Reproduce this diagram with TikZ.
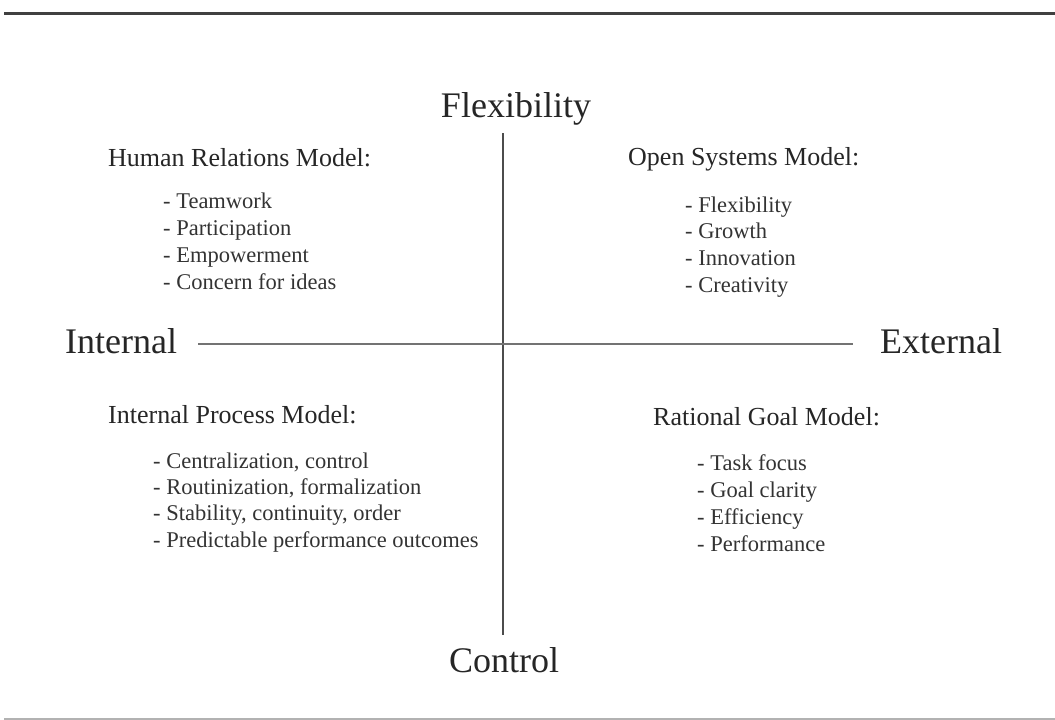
\documentclass[tikz,border=0pt]{standalone}
\usepackage{fontspec}
\setmainfont{Liberation Serif}

\begin{document}
\begin{tikzpicture}[x=1pt, y=-1pt,
    axislabel/.style={font=\fontsize{36}{40}\selectfont, text=black!85, inner sep=0pt, anchor=base},
    modelname/.style={font=\fontsize{26}{30}\selectfont, text=black!85, inner sep=0pt, anchor=base west},
    modelitem/.style={font=\fontsize{22.5}{26}\selectfont, text=black!80, inner sep=0pt, anchor=base west}]

    \useasboundingbox (0,0) rectangle (1055,720);

    % rules above and below
	\coordinate (ruletl) at (4,13);
	\coordinate (ruletr) at (1055,13);
	\coordinate (rulebl) at (4,719);
	\coordinate (rulebr) at (1055,719);
    \draw [line width=3pt, black!75] (ruletl) -- (ruletr);
    \draw [line width=1.5pt, black!30] (rulebl) -- (rulebr);

    % the two axes
	\coordinate (top)    at (503,133);
	\coordinate (bottom) at (503,635);
	\coordinate (left)   at (198,344);
	\coordinate (right)  at (853,344);
    \draw [line width=1.4pt, black!70] (top) -- (bottom);
    \draw [line width=1.4pt, black!55] (left) -- (right);

	\node [axislabel] (flex) at (516,117) {Flexibility};
	\node [axislabel] (ctrl) at (504,672) {Control};
	\node [axislabel, anchor=base west] (int) at (65,353) {Internal};
	\node [axislabel, anchor=base west] (ext) at (880,353) {External};

    % quadrants
	\node [modelname] (hrm) at (108,166) {Human Relations Model:};
    \foreach \t [count=\i] in {Teamwork, Participation, Empowerment, Concern for ideas}
        \node [modelitem] (hrm\i) at (163,{208+27.3*(\i-1)}) {- \t};

	\node [modelname] (osm) at (628,165) {Open Systems Model:};
    \foreach \t [count=\i] in {Flexibility, Growth, Innovation, Creativity}
        \node [modelitem] (osm\i) at (685,{212+26.7*(\i-1)}) {- \t};

	\node [modelname] (ipm) at (108,423) {Internal Process Model:};
    \foreach \t [count=\i] in {{Centralization, control}, {Routinization, formalization},
                               {Stability, continuity, order}, Predictable performance outcomes}
        \node [modelitem] (ipm\i) at (153,{468+26.4*(\i-1)}) {- \t};

	\node [modelname] (rgm) at (653,425) {Rational Goal Model:};
    \foreach \t [count=\i] in {Task focus, Goal clarity, Efficiency, Performance}
        \node [modelitem] (rgm\i) at (697,{470+27*(\i-1)}) {- \t};
\end{tikzpicture}
\end{document}
